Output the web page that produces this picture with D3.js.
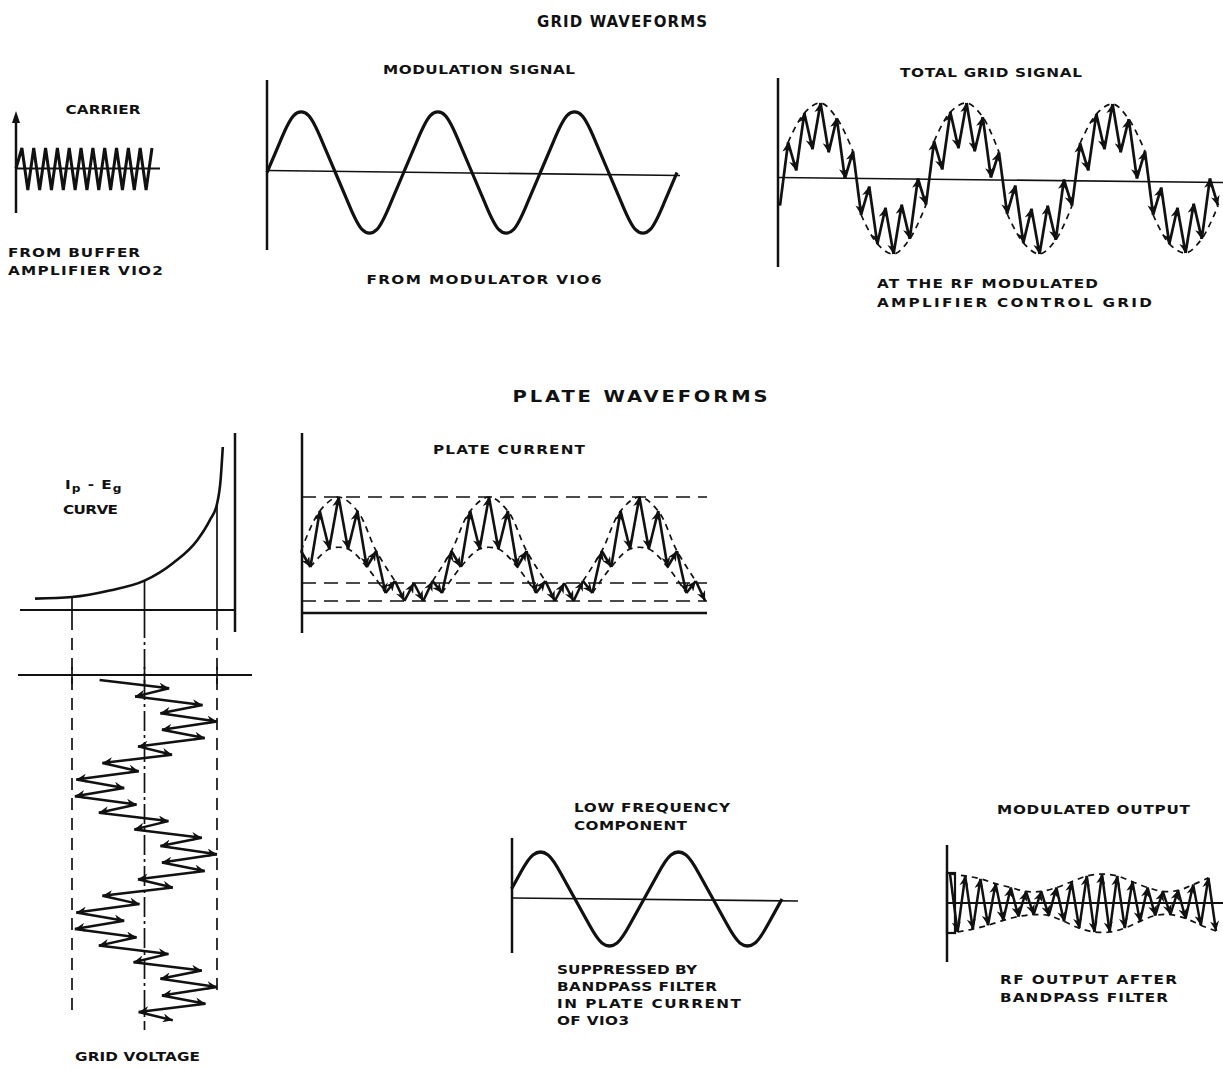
<!DOCTYPE html>
<html>
<head>
<meta charset="utf-8">
<script src="https://cdn.jsdelivr.net/npm/d3@7"></script>
<style>
  body { margin: 0; background: #fff; }
  text { font-family: "DejaVu Sans", sans-serif; font-weight: bold; fill: #111; }
</style>
</head>
<body>
<div id="chart"></div>
<script>
// ---- data ----
// carrier: start on the axis, then tip amplitudes (evenly spaced)
const carrierTips = [0, 20, -21, 20, -21, 20, -21, 20, -21, 20, -21, 20, -21, 20, -21, 20, -21, 20, -21, 20, -21, 20, -21, 20];

// modulation signal: drawn vertices, time in periods, amplitude (flat round tops, straight flanks)
const modT = [0, .1, .19, .31, .4, .5, .6, .69, .81, .9, 1, 1.1, 1.19, 1.31, 1.4, 1.5, 1.6, 1.69, 1.81, 1.9, 2,
  2.1, 2.19, 2.31, 2.4, 2.5, 2.6, 2.69, 2.81, 2.9, 3];
const modV = [0, .54, 1.04, 1.04, .54, 0, -.54, -1.04, -1.04, -.54, 0, .54, 1.04, 1.04, .54, 0, -.54, -1.04, -1.04, -.54, 0,
  .54, 1.04, 1.04, .54, 0, -.54, -1.04, -1.04, -.54, 0];

// total grid signal: tip values (carrier riding on modulation)
const tgsTips = [-27, 36, 8, 65, 29, 75, 26, 60, 0, 27, -36, -8, -65, -29, -75, -26, -60, 0,
  -26, 37, 9, 66, 30, 75, 27, 61, 1, 26, -35, -7, -64, -30, -75, -27, -61, -1,
  -27, 35, 8, 64, 29, 74, 26, 59, 0, 27, -36, -9, -65, -29, -74, -25, -60, 0, -27];

// Ip-Eg curve: grid voltage (units) vs plate current (units)
const ipE = [-1.51, -1.0, -0.48, 0, 0.40, 0.73, 0.90, 1.0, 1.05, 1.08];
const ipI = [0.07, 0.08, 0.12, 0.18, 0.29, 0.43, 0.55, 0.65, 0.80, 1.0];
const eMarks = [-1, 0, 1];

// grid voltage (time runs downward): tip voltages
const gvTips = [-0.62, 0.34, -0.13, 0.80, 0.22, 1.00, 0.24, 0.83, -0.09, 0.38, -0.58, -0.08, -0.94, -0.28, -0.96, -0.11,
  -0.63, 0.33, -0.14, 0.79, 0.22, 1.00, 0.24, 0.83, -0.09, 0.39, -0.58, -0.07, -0.94, -0.28, -0.96, -0.11,
  -0.63, 0.33, -0.15, 0.79, 0.22, 1.00, 0.24, 0.84, -0.08, 0.39];

// plate current: tip values and the three reference levels
const pcTips = [62, 46, 102, 64, 116, 64, 102, 46, 62, 20, 32, 12, 30, 12, 32, 20, 62, 46, 102, 64, 116, 64,
  102, 46, 62, 20, 32, 12, 30, 12, 32, 20, 62, 46, 102, 64, 116, 64, 102, 46, 62, 20, 32, 12];
const pcLevels = [116, 30, 12];

// low frequency component
const lfT = [0.04, .1, .19, .31, .4, .5, .6, .69, .81, .9, 1, 1.1, 1.19, 1.31, 1.4, 1.5, 1.6, 1.69, 1.81, 1.9, 2];
const lfV = [.22, .54, 1.04, 1.04, .54, 0, -.54, -1.04, -1.04, -.54, 0, .54, 1.04, 1.04, .54, 0, -.54, -1.04, -1.04, -.54, 0];

// modulated output: tip values
const moTips = [30, -30, 28, -27, 25, -23, 20, -18, 16, -14, 12, -12, 12, -13, 16, -19, 22, -26, 28, -30,
  30, -30, 28, -26, 22, -19, 16, -13, 12, -12, 13, -16, 19, -23, 26, -29];

// ---- drawing ----
const W = 1223, H = 1070;
const ink = '#111';
const stretch = 1.22; // lettering on the drawing is wider than DejaVu
const svg = d3.select('#chart').append('svg').attr('width', W).attr('height', H);

svg.append('defs').append('marker')
  .attr('id', 'arr').attr('viewBox', '0 0 10 9').attr('refX', 10).attr('refY', 4.5)
  .attr('markerWidth', 12).attr('markerHeight', 9).attr('markerUnits', 'userSpaceOnUse').attr('orient', 'auto')
  .append('path').attr('d', 'M0,0 L10,4.5 L0,9 L3,4.5 Z').attr('fill', ink);

function seg(g, x1, y1, x2, y2, w, dash){
  const l = g.append('line').attr('x1', x1).attr('y1', y1).attr('x2', x2).attr('y2', y2)
    .attr('stroke', ink).attr('stroke-width', w || 2);
  if (dash) l.attr('stroke-dasharray', dash);
  return l;
}

// text widened and fitted to the width it has in the drawing
function label(x, y, txt, anchor, width, size, sx){
  const k = sx || stretch;
  return svg.append('text').attr('transform', `translate(${x},${y}) scale(${k},1)`)
    .attr('text-anchor', anchor || 'start')
    .attr('dominant-baseline', 'middle').attr('font-size', size || 12.5)
    .attr('textLength', width / k).attr('lengthAdjust', 'spacing').text(txt);
}

// zigzag of arrows between consecutive points
function arrows(g, pts, w){
  for (let i = 1; i < pts.length; i++){
    seg(g, pts[i-1][0], pts[i-1][1], pts[i][0], pts[i][1], w || 2.5).attr('marker-end', 'url(#arr)');
  }
}

function envelope(g, pts, keep){
  const line = d3.line().x(d => d[0]).y(d => d[1]).defined(d => keep(d[2])).curve(d3.curveCatmullRom);
  g.append('path').datum(pts).attr('d', line).attr('fill', 'none')
    .attr('stroke', ink).attr('stroke-width', 1.7).attr('stroke-dasharray', '6 5');
}

const g = svg.append('g');

// titles
label(622, 22, 'GRID WAVEFORMS', 'middle', 170, 15, 1);
label(640, 398, 'PLATE WAVEFORMS', 'middle', 255, 16);

// ---- carrier ----
{
  const x = d3.scaleLinear().domain([0, carrierTips.length - 1]).range([16, 152]);
  const y = d3.scaleLinear().domain([-21, 20]).range([190, 148]);
  seg(g, 16, 213, 16, 118, 2.5);
  g.append('path').attr('d', 'M16,111 L12,123 L20,123 Z').attr('fill', ink);
  seg(g, 16, y(0), 160, y(0), 1.8);
  g.append('path').datum(carrierTips).attr('fill', 'none').attr('stroke', ink).attr('stroke-width', 3)
    .attr('d', d3.line().x((d, i) => x(i)).y(d => y(d)));
  label(103, 110, 'CARRIER', 'middle', 75);
  label(8, 253, 'FROM BUFFER', 'start', 132);
  label(8, 271, 'AMPLIFIER VIO2', 'start', 155);
}

// ---- modulation signal ----
{
  const x = d3.scaleLinear().domain([0, 3]).range([267, 677]);
  const y = d3.scaleLinear().domain([-1, 1]).range([232, 113]);
  seg(g, 267, 80, 267, 250, 2.5);
  seg(g, 267, y(0) - 2, 680, y(0) + 3, 1.6);
  g.append('path').datum(modT.map((t, i) => [t, modV[i]])).attr('fill', 'none')
    .attr('stroke', ink).attr('stroke-width', 3.2)
    .attr('d', d3.line().x(d => x(d[0])).y(d => y(d[1])).curve(d3.curveBasis));
  label(479, 70, 'MODULATION SIGNAL', 'middle', 192);
  label(484, 280, 'FROM MODULATOR  VIO6', 'middle', 235);
}

// ---- total grid signal ----
{
  const x = d3.scaleLinear().domain([0, tgsTips.length - 1]).range([780, 1218]);
  const y = d3.scaleLinear().domain([-75, 75]).range([254, 103]);
  seg(g, 778, 78, 778, 267, 2.5);
  seg(g, 778, y(0) - 1, 1223, y(0) + 4, 1.6);
  const pts = tgsTips.map((v, i) => [x(i), y(v), v]);
  envelope(g, pts.filter((d, i) => i % 2 === 1), v => v > 10);
  envelope(g, pts.filter((d, i) => i % 2 === 0), v => v < -10);
  arrows(g, pts, 2.7);
  label(991, 73, 'TOTAL GRID SIGNAL', 'middle', 182);
  label(877, 284, 'AT THE RF MODULATED', 'start', 221);
  label(877, 303, 'AMPLIFIER CONTROL GRID', 'start', 275);
}

// ---- Ip-Eg curve and grid voltage ----
{
  const x = d3.scaleLinear().domain([-1, 1]).range([72, 217]);
  const yI = d3.scaleLinear().domain([0, 1]).range([610, 447]);
  seg(g, 235, 433, 235, 632, 2.5);
  seg(g, 20, 610, 235, 610, 2.2);
  g.append('path').datum(ipE.map((e, i) => [e, ipI[i]])).attr('fill', 'none')
    .attr('stroke', ink).attr('stroke-width', 2.6)
    .attr('d', d3.line().x(d => x(d[0])).y(d => yI(d[1])).curve(d3.curveMonotoneX));

  // projection lines from the curve down through the grid voltage plot
  const lineEnds = [1010, 1030, 997];
  eMarks.forEach((e, i) => {
    const top = yI(ipI[ipE.indexOf(e)]);
    seg(g, x(e), top, x(e), 618, 1.7);
    seg(g, x(e), 618, x(e), lineEnds[i], 1.7, e === 0 ? '20 4 3 4' : '12 8');
    seg(g, x(e), 667, x(e), 684, 1.7);
  });

  // grid voltage plot, time downward
  seg(g, 18, 675, 252, 675, 2.2);
  const t = d3.scaleLinear().domain([0, gvTips.length - 1]).range([680, 1020.3]);
  arrows(g, gvTips.map((v, i) => [x(v), t(i)]), 2.5);

  const ip = svg.append('text').attr('transform', `translate(65,485) scale(${stretch},1)`).attr('font-size', 12.5)
    .attr('dominant-baseline', 'middle').attr('letter-spacing', 0.8);
  ip.append('tspan').text('I');
  ip.append('tspan').attr('font-size', 10).attr('dy', 4).text('p');
  ip.append('tspan').attr('dy', -4).text(' - E');
  ip.append('tspan').attr('font-size', 10).attr('dy', 4).text('g');
  label(63, 510, 'CURVE', 'start', 55);
  label(75, 1057, 'GRID VOLTAGE', 'start', 125);
}

// ---- plate current ----
{
  const x = d3.scaleLinear().domain([0, pcTips.length - 1]).range([301, 705.2]);
  const y = d3.scaleLinear().domain([0, 116]).range([613, 497]);
  seg(g, 302, 433, 302, 633, 2.5);
  seg(g, 302, y(0), 707, y(0), 2.6);
  pcLevels.forEach(v => seg(g, 302, y(v), 707, y(v), 1.7, '14 8'));
  const pts = pcTips.map((v, i) => [x(i), y(v), v]);
  envelope(g, pts.filter((d, i) => i % 2 === 0), v => v > 31);
  envelope(g, pts.filter((d, i) => i % 2 === 1), v => v >= 20);
  arrows(g, pts, 2.6);
  label(433, 450, 'PLATE CURRENT', 'start', 152);
}

// ---- low frequency component ----
{
  const x = d3.scaleLinear().domain([0, 2]).range([506, 782]);
  const y = d3.scaleLinear().domain([-1, 1]).range([945, 853]);
  seg(g, 512, 838, 512, 953, 2.5);
  seg(g, 512, y(0) - 1, 798, y(0) + 2, 1.6);
  g.append('path').datum(lfT.map((t, i) => [t, lfV[i]])).attr('fill', 'none')
    .attr('stroke', ink).attr('stroke-width', 3.2)
    .attr('d', d3.line().x(d => x(d[0])).y(d => y(d[1])).curve(d3.curveBasis));
  label(574, 808, 'LOW FREQUENCY', 'start', 156);
  label(574, 826, 'COMPONENT', 'start', 113);
  label(557, 970, 'SUPPRESSED BY', 'start', 140);
  label(557, 987, 'BANDPASS FILTER', 'start', 160);
  label(557, 1004, 'IN PLATE CURRENT', 'start', 184);
  label(557, 1021, 'OF VIO3', 'start', 72);
}

// ---- modulated output ----
{
  const x = d3.scaleLinear().domain([0, moTips.length - 1]).range([950, 1216]);
  const y = d3.scaleLinear().domain([-30, 30]).range([932, 874]);
  seg(g, 947, 845, 947, 962, 2.5);
  seg(g, 947, y(0), 1223, y(0), 1.8);
  g.append('rect').attr('x', 947).attr('y', y(30) - 1).attr('width', 8).attr('height', y(-30) - y(30) + 2)
    .attr('fill', 'none').attr('stroke', ink).attr('stroke-width', 2.2);
  const pts = moTips.map((v, i) => [x(i), y(v), v]);
  envelope(g, pts.filter((d, i) => i % 2 === 0), v => true);
  envelope(g, pts.filter((d, i) => i % 2 === 1), v => true);
  arrows(g, pts, 2.5);
  label(997, 810, 'MODULATED OUTPUT', 'start', 193);
  label(1000, 980, 'RF OUTPUT AFTER', 'start', 177);
  label(1000, 998, 'BANDPASS FILTER', 'start', 168);
}
</script>
</body>
</html>
